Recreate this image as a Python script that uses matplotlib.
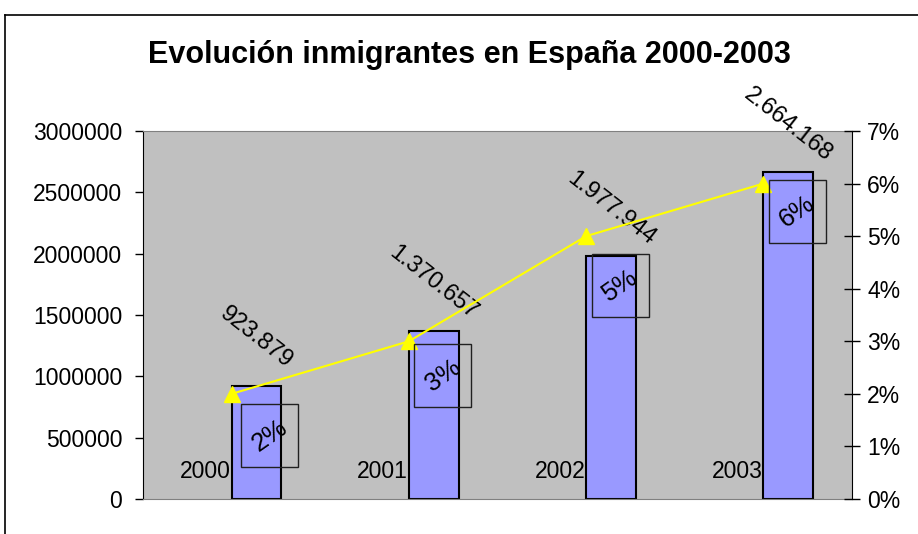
import matplotlib
matplotlib.use("Agg")
import matplotlib.pyplot as plt
import matplotlib.transforms as mtransforms
from matplotlib.patches import Rectangle
from matplotlib.lines import Line2D
from matplotlib.ticker import FuncFormatter

years = ["2000", "2001", "2002", "2003"]
inmigrantes = [923879, 1370657, 1977944, 2664168]
porcentaje = [2, 3, 5, 6]
value_labels = ["923.879", "1.370.657", "1.977.944", "2.664.168"]
pct_labels = ["2%", "3%", "5%", "6%"]

# pixel offsets (x, y) of the boxed % labels relative to the line points
pct_offsets = [(38, -42), (34, -34), (34, -49), (34, -28)]

plt.rcParams['font.family'] = ['Liberation Sans', 'DejaVu Sans']

fig = plt.figure(figsize=(9.18, 5.34), dpi=100)
fig.patch.set_facecolor('white')

# outer chart frame (runs off the right and bottom edges)
fig.add_artist(Line2D([5 / 918, 5 / 918], [-0.1, 1 - 15 / 534], color='black', lw=1.2, transform=fig.transFigure))
fig.add_artist(Line2D([5 / 918, 1.1], [1 - 15 / 534, 1 - 15 / 534], color='black', lw=1.2, transform=fig.transFigure))

ax = fig.add_axes([143 / 918, 1 - 499 / 534, (852 - 143) / 918, (499 - 131) / 534])
ax.set_facecolor('#C0C0C0')
x = list(range(len(years)))

ax.bar(x, inmigrantes, width=0.28, align='edge', color='#9999FF', edgecolor='black', linewidth=1.5, zorder=2)
ax.set_xlim(-0.5, 3.5)
ax.set_ylim(0, 3000000)
ax.set_yticks(range(0, 3000001, 500000))
ax.yaxis.set_major_formatter(FuncFormatter(lambda v, p: f"{int(v)}"))
ax.set_xticks([])
ax.tick_params(axis='y', labelsize=16.5, length=6, width=1, direction='out', pad=9)

for sp in ['top', 'bottom']:
    ax.spines[sp].set_color('#808080')
ax.spines['left'].set_color('black')
ax.spines['right'].set_visible(False)

# value labels above each bar
for i, v in enumerate(inmigrantes):
    ax.annotate(value_labels[i], (i + 0.14, v), xytext=(0, 48), textcoords='offset pixels',
                ha='center', va='center', rotation=-38, fontsize=17, zorder=5, annotation_clip=False)
    # year label just left of each bar
    ax.annotate(years[i], (i, 0), xytext=(-1, 28), textcoords='offset pixels',
                ha='right', va='center', fontsize=16.5, zorder=5)

ax2 = ax.twinx()
ax2.set_ylim(0, 7)
ax2.set_yticks(range(0, 8))
ax2.yaxis.set_major_formatter(FuncFormatter(lambda v, p: f"{int(v)}%"))
ax2.tick_params(axis='y', labelsize=16.5, length=12, width=1, direction='inout', pad=5)
ax2.spines['right'].set_color('black')
for sp in ['top', 'bottom', 'left']:
    ax2.spines[sp].set_visible(False)

ax2.plot(x, porcentaje, color='#FFFF00', linewidth=1.5, marker='^', markersize=12,
         markeredgecolor='#FFFF00', zorder=3)

# boxed percentage labels
bw, bh = 57, 63
for i, p in enumerate(porcentaje):
    dx, dy = pct_offsets[i]
    tr = mtransforms.Affine2D().translate(dx, dy) + mtransforms.ScaledTranslation(i, p, ax2.transData)
    ax2.add_patch(Rectangle((-bw / 2, -bh / 2), bw, bh, transform=tr, fill=False,
                            edgecolor='#202020', linewidth=1, zorder=4, clip_on=False))
    ax2.text(0, 0, pct_labels[i], transform=tr, ha='center', va='center', rotation=35,
             rotation_mode='anchor', fontsize=18.5, zorder=5)

fig.text(469 / 918, 1 - 55 / 534, "Evolución inmigrantes en España 2000-2003",
         ha='center', va='center', fontsize=22, fontweight='bold')

fig.savefig("out.png", dpi=100)
